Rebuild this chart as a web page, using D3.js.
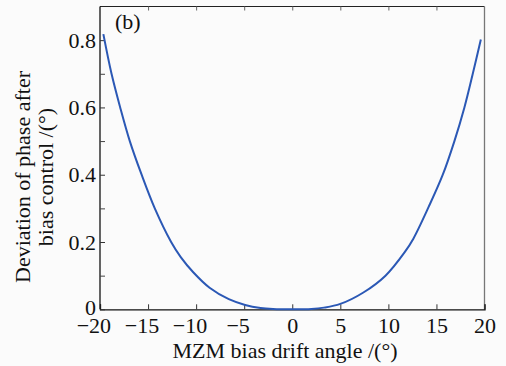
<!DOCTYPE html>
<html><head><meta charset="utf-8">
<script src="https://cdn.jsdelivr.net/npm/d3@7"></script>
<style>
body{margin:0;background:#fbfbfb;}
svg text{font-family:"Liberation Serif","Times New Roman",serif;fill:#111;}
</style></head>
<body>
<svg id="c" width="506" height="366"></svg>
<script>
const driftAngle = [-19.65,-18.8,-17.9,-16.9,-15.67,-14.3,-12.6,-11.6,-10.3,-8.6,-6.6,-4.9,-3.3,-2.0,0,2.0,3.3,5.0,7.4,9.7,11.7,12.6,14.2,15.66,16.87,17.91,18.78,19.62];
const phaseDeviation = [0.818,0.70,0.60,0.50,0.40,0.30,0.20,0.155,0.11,0.064,0.03,0.013,0.004,0.001,0.0,0.001,0.005,0.016,0.05,0.1,0.17,0.21,0.305,0.40,0.50,0.60,0.70,0.802];
const xTicks = [-20,-15,-10,-5,0,5,10,15,20];
const yTicks = [0,0.2,0.4,0.6,0.8];
const yMinorTicks = [0.1,0.3,0.5,0.7];
const panelLabel = "(b)";
const xTitle = "MZM bias drift angle /(°)";
const yTitleLines = ["Deviation of phase after","bias control /(°)"];

const svg = d3.select("#c");
const L=100, R=484.5, T=6.5, B=309.3;
const FS = 22;
const x = d3.scaleLinear().domain([-20,20]).range([L,R]);
const y = d3.scaleLinear().domain([0,0.9]).range([B,T]);

// frame
svg.append("line").attr("x1",L).attr("x2",R).attr("y1",T).attr("y2",T).attr("stroke","#222").attr("stroke-width",1.2);
svg.append("line").attr("x1",R).attr("x2",R).attr("y1",T).attr("y2",B).attr("stroke","#777").attr("stroke-width",1.3);

// bottom axis
const bx = svg.append("g").attr("transform",`translate(0,${B})`)
  .call(d3.axisBottom(x).tickValues(xTicks).tickSize(-5).tickFormat(d=>d<0?"\u2212"+(-d):String(d)).tickPadding(8));
bx.attr("font-family",null).attr("font-size",null);
bx.select(".domain").attr("stroke","#111").attr("stroke-width",1.3);
bx.selectAll(".tick line").attr("stroke","#333");
bx.selectAll("text").attr("font-size",FS).attr("dx",d=>d<0?"-0.3em":null);
// top ticks
const tx = svg.append("g").attr("transform",`translate(0,${T})`)
  .call(d3.axisTop(x).tickValues(xTicks.slice(1,-1)).tickSize(-4).tickFormat(""));
tx.select(".domain").remove();
tx.selectAll(".tick line").attr("stroke","#666");

// left axis
const ly = svg.append("g").attr("transform",`translate(${L},0)`)
  .call(d3.axisLeft(y).tickValues(yTicks).tickSize(-5).tickFormat(d=>d===0?"0":d3.format(".1f")(d)).tickPadding(4));
ly.attr("font-family",null).attr("font-size",null);
ly.select(".domain").attr("stroke","#111").attr("stroke-width",1.3).attr("d",`M0,${B}V${T}`);
ly.selectAll(".tick line").attr("stroke","#333");
ly.selectAll("text").attr("font-size",FS).attr("dy",d=>d===0?"0.24em":"0.32em");
const lm = svg.append("g").attr("transform",`translate(${L},0)`)
  .call(d3.axisLeft(y).tickValues(yMinorTicks).tickSize(-5).tickFormat(""));
lm.select(".domain").remove();
lm.selectAll(".tick line").attr("stroke","#444");

// curve
const pts = driftAngle.map((d,i)=>[d,phaseDeviation[i]]);
svg.append("path").datum(pts)
  .attr("fill","none").attr("stroke","#2b58b5").attr("stroke-width",2)
  .attr("d",d3.line().x(d=>x(d[0])).y(d=>y(d[1])).curve(d3.curveCatmullRom.alpha(0.5)));

// labels
svg.append("text").attr("x",115).attr("y",29).attr("font-size",FS).text(panelLabel);
svg.append("text").attr("x",285).attr("y",358).attr("text-anchor","middle").attr("font-size",FS).text(xTitle);
const yt = svg.append("text").attr("transform","translate(0,177) rotate(-90)").attr("text-anchor","middle").attr("font-size",FS);
yt.append("tspan").attr("x",0).attr("y",30).text(yTitleLines[0]);
yt.append("tspan").attr("x",0).attr("y",53).text(yTitleLines[1]);
</script>
</body></html>
